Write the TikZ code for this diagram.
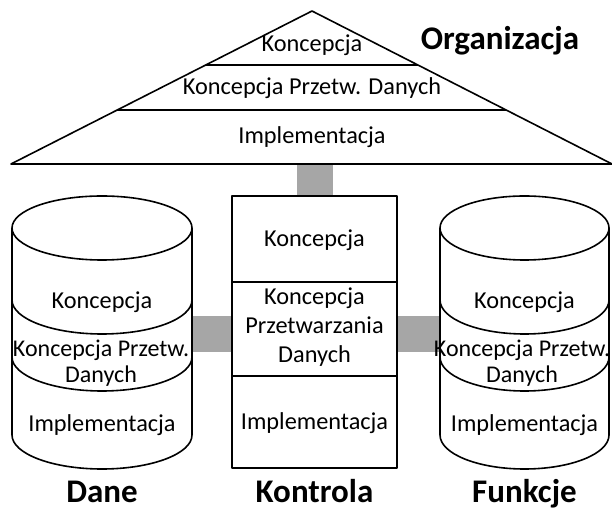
\documentclass[tikz,border=0pt]{standalone}
\usepackage{fontspec}
\setmainfont{Carlito}
\usetikzlibrary{calc,backgrounds}
\definecolor{linkgray}{HTML}{A6A6A6}
\begin{document}
\begin{tikzpicture}[x=1pt,y=1pt,
  outline/.style={line width=1.6pt, line join=round},
  link/.style={draw=linkgray, line width=36pt},
  txt/.style={font=\fontsize{24.3}{29}\selectfont, align=center, inner sep=0pt},
  tighttxt/.style={txt, font=\fontsize{24}{26}\selectfont},
  title/.style={font=\fontsize{33}{38}\selectfont\bfseries, inner sep=0pt, anchor=base}]
\useasboundingbox (0,0) rectangle (612,510);

% --- pyramid: Organizacja ---
\coordinate (apex) at (312,499);
\coordinate (bl) at (11,346);
\coordinate (br) at (612,346);
\draw[outline, fill=white] (apex) -- (bl) -- (br) -- cycle;
\draw[outline] ($(apex)!0.353!(bl)$) -- ($(apex)!0.353!(br)$);
\draw[outline] ($(apex)!0.647!(bl)$) -- ($(apex)!0.647!(br)$);
\coordinate (tribase) at (314.5,346);
\node[txt] (t1) at (312,465) {Koncepcja};
\node[txt] (t2) at (312,422) {Koncepcja Przetw. Danych};
\node[txt] (t3) at (312,373) {Implementacja};
\node[title] (org) at (500,460) {Organizacja};

% --- control box ---
\node[outline, draw, fill=white, minimum width=165pt, minimum height=272pt, inner sep=0pt]
  (ctrl) at (314.5,178) {};
\draw[outline] (ctrl.west |- 0,228) -- (ctrl.east |- 0,228);
\draw[outline] (ctrl.west |- 0,134) -- (ctrl.east |- 0,134);
\node[txt] (c1) at (314.5,270) {Koncepcja};
\node[txt] (c2) at (314.5,183) {Koncepcja\\Przetwarzania\\Danych};
\node[txt] (c3) at (314.5,87) {Implementacja};
\node[title] (kontrola) at (314.5,7) {Kontrola};

% --- cylinders: Dane and Funkcje (centre, radius, text centre) ---
\foreach \cx/\rx/\tx/\nm/\lbl in {102/90/101/dane/Dane, 524.5/84.5/522/funk/Funkcje} {
  \draw[outline, fill=white] (\cx-\rx,282) -- (\cx-\rx,75)
    arc[start angle=180, end angle=360, x radius=\rx, y radius=34]
    -- (\cx+\rx,282)
    arc[start angle=0, end angle=180, x radius=\rx, y radius=32] -- cycle;
  \draw[outline] (\cx-\rx,282) arc[start angle=180, end angle=360, x radius=\rx, y radius=32];
  \draw[outline] (\cx-\rx,210) arc[start angle=180, end angle=360, x radius=\rx, y radius=34];
  \draw[outline] (\cx-\rx,153) arc[start angle=180, end angle=360, x radius=\rx, y radius=34];
  \coordinate (\nm-w) at (\cx-\rx,176);
  \coordinate (\nm-e) at (\cx+\rx,176);
  \node[txt] (\nm-1) at (\cx,208) {Koncepcja};
  \node[tighttxt] (\nm-2) at (\tx,147) {Koncepcja Przetw.\\Danych};
  \node[txt] (\nm-3) at (\cx,85) {Implementacja};
  \node[title] (\nm-title) at (\cx,7) {\lbl};
}

% --- grey links behind the shapes ---
\begin{scope}[on background layer]
  \draw[link] (tribase) -- (ctrl.north);
  \draw[link] (dane-e) -- (ctrl.west |- dane-e);
  \draw[link] (ctrl.east |- funk-w) -- (funk-w);
\end{scope}
\end{tikzpicture}
\end{document}
